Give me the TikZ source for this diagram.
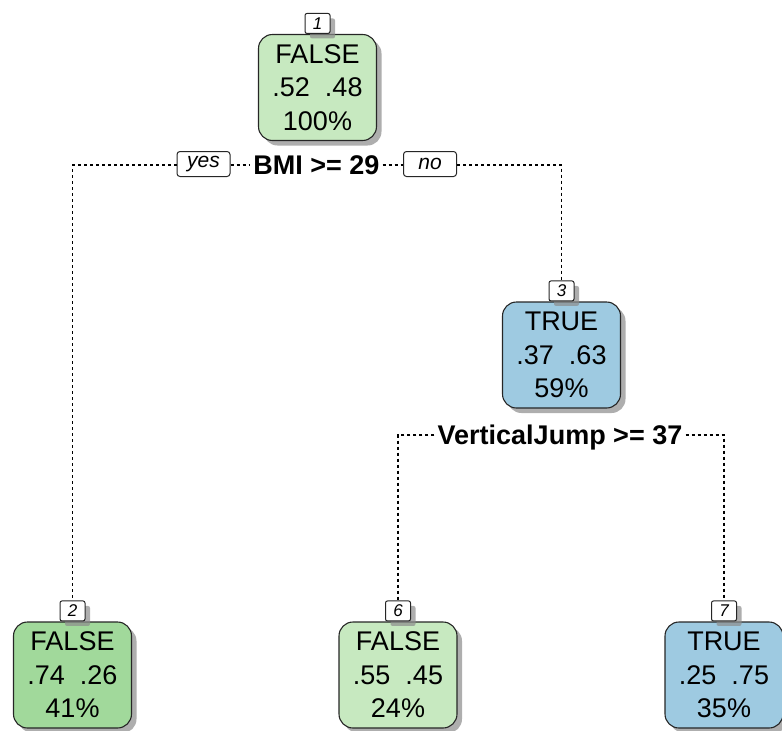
\documentclass[tikz,border=0pt]{standalone}
\usepackage{fontspec}
\setmainfont{Liberation Sans}
\usetikzlibrary{shadows}
\definecolor{gA}{RGB}{199,233,192}
\definecolor{gB}{RGB}{161,217,155}
\definecolor{bA}{RGB}{158,202,225}
\begin{document}
\begin{tikzpicture}[x=1pt,y=-1pt,
  shad/.style={drop shadow={shadow xshift=5pt,shadow yshift=-5pt,fill=black!45,opacity=0.7}},
  leaf/.style={draw=black!85,line width=1.1pt,rounded corners=14pt,minimum width=118pt,minimum height=106pt,
    align=center,inner sep=0pt,font=\fontsize{27}{33.5}\selectfont,shad},
  nlab/.style={draw=black!85,fill=white,line width=1pt,rounded corners=2pt,minimum width=25pt,minimum height=20pt,
    inner sep=0pt,font=\fontsize{17}{17}\selectfont\itshape,shad},
  yn/.style={draw=black!85,fill=white,line width=1pt,rounded corners=3pt,minimum width=53pt,minimum height=25pt,
    inner sep=0pt,font=\fontsize{21}{21}\selectfont\itshape},
  split/.style={inner ysep=0pt,inner xsep=3pt,text height=19.5pt,text depth=0pt,font=\fontsize{27}{27}\selectfont\bfseries},
  conn/.style={line width=1.2pt,dash pattern=on 3pt off 3pt}]
\useasboundingbox (0,0) rectangle (782,731);
% nodes
\node[leaf,fill=gA] (n1) at (317.5,87.5) {FALSE\\.52~~.48\\100\%};
\node[leaf,fill=bA] (n3) at (561.5,355) {TRUE\\.37~~.63\\59\%};
\node[leaf,fill=gB] (n2) at (72.5,675) {FALSE\\.74~~.26\\41\%};
\node[leaf,fill=gA] (n6) at (398,675) {FALSE\\.55~~.45\\24\%};
\node[leaf,fill=bA] (n7) at (724,675) {TRUE\\.25~~.75\\35\%};
% number labels
\node[nlab,anchor=south] (l1) at (n1.north) {1};
\node[nlab,anchor=south] (l3) at (n3.north) {3};
\node[nlab,anchor=south] (l2) at (n2.north) {2};
\node[nlab,anchor=south] (l6) at (n6.north) {6};
\node[nlab,anchor=south] (l7) at (n7.north) {7};
% splits
\node[split] (s1) at (316.5,165) {BMI >= 29};
\node[yn] (yes) at (203.5,164) {yes};
\node[yn] (no) at (430,164) {no};
\node[split] (s3) at (560,435) {VerticalJump >= 37};
% connectors
\draw[conn] (yes.west |- s1.west) -| (l2.north);
\draw[conn] (yes.east |- s1.west) -- (s1.west);
\draw[conn] (s1.east) -- (no.west |- s1.east);
\draw[conn] (no.east |- s1.east) -| (l3.north);
\draw[conn] (s3.west) -| (l6.north);
\draw[conn] (s3.east) -| (l7.north);
\end{tikzpicture}
\end{document}
